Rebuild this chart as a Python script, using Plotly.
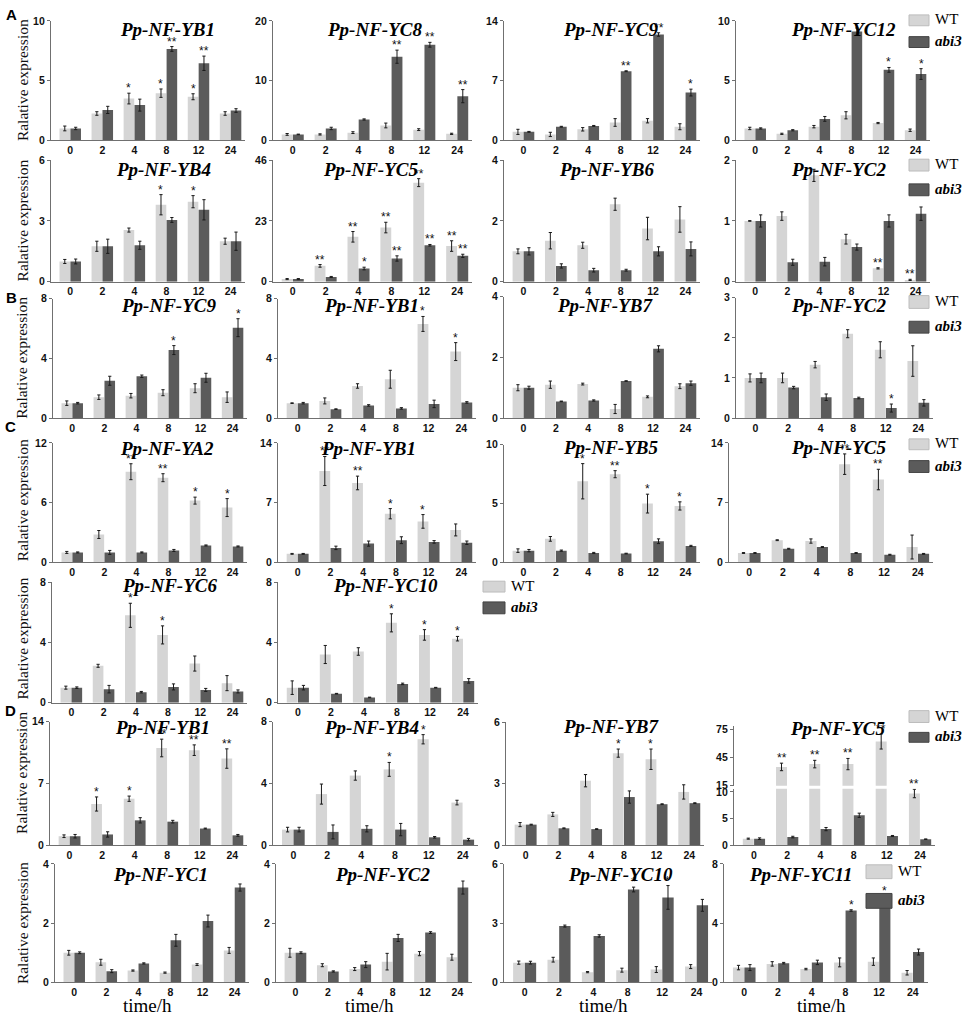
import plotly.graph_objects as go

W, H = 964, 1023
TIMES = ["0", "2", "4", "8", "12", "24"]
WT_COLOR = "#d5d5d5"
AB_COLOR = "#5b5b5b"
AXIS_COLOR = "#707070"

# ---------------- data ----------------
# Row A-1
A1_TITLE = "Pp-NF-YB1"; A1_TICKS = [0, 5, 10]
A1_WT = [1.0, 2.25, 3.5, 3.95, 3.65, 2.25]; A1_WT_ERR = [0.2, 0.15, 0.45, 0.35, 0.25, 0.15]
A1_AB = [1.0, 2.55, 2.95, 7.65, 6.45, 2.5]; A1_AB_ERR = [0.1, 0.3, 0.5, 0.2, 0.6, 0.15]
A1_WT_SIG = ["", "", "*", "*", "*", ""]; A1_AB_SIG = ["", "", "", "**", "**", ""]

A2_TITLE = "Pp-NF-YC8"; A2_TICKS = [0, 10, 20]
A2_WT = [1.0, 1.0, 1.3, 2.5, 1.8, 1.1]; A2_WT_ERR = [0.15, 0.1, 0.15, 0.4, 0.15, 0.1]
A2_AB = [1.0, 2.0, 3.5, 14.0, 16.0, 7.4]; A2_AB_ERR = [0.05, 0.2, 0.1, 1.1, 0.4, 1.1]
A2_WT_SIG = ["", "", "", "", "", ""]; A2_AB_SIG = ["", "", "", "**", "**", "**"]

A3_TITLE = "Pp-NF-YC9"; A3_TICKS = [0, 7, 14]
A3_WT = [1.0, 0.7, 1.3, 2.1, 2.3, 1.6]; A3_WT_ERR = [0.3, 0.25, 0.2, 0.45, 0.25, 0.35]
A3_AB = [1.0, 1.6, 1.7, 8.1, 12.4, 5.6]; A3_AB_ERR = [0.05, 0.05, 0.05, 0.05, 0.2, 0.4]
A3_WT_SIG = ["", "", "", "", "", ""]; A3_AB_SIG = ["", "", "", "**", "**", "*"]

A4_TITLE = "Pp-NF-YC12"; A4_TICKS = [0, 5, 10]
A4_WT = [1.0, 0.55, 1.15, 2.1, 1.45, 0.85]; A4_WT_ERR = [0.1, 0.05, 0.1, 0.3, 0.05, 0.1]
A4_AB = [1.0, 0.85, 1.8, 9.1, 5.9, 5.55]; A4_AB_ERR = [0.05, 0.05, 0.2, 0.3, 0.2, 0.45]
A4_WT_SIG = ["", "", "", "", "", ""]; A4_AB_SIG = ["", "", "", "", "*", "*"]

# Row A-2
A5_TITLE = "Pp-NF-YB4"; A5_TICKS = [0, 3, 6]
A5_WT = [1.0, 1.75, 2.55, 3.8, 3.95, 2.0]; A5_WT_ERR = [0.1, 0.25, 0.1, 0.5, 0.3, 0.15]
A5_AB = [1.0, 1.75, 1.8, 3.05, 3.55, 2.0]; A5_AB_ERR = [0.12, 0.35, 0.2, 0.12, 0.5, 0.45]
A5_WT_SIG = ["", "", "", "*", "*", ""]; A5_AB_SIG = ["", "", "", "", "", ""]

A6_TITLE = "Pp-NF-YC5"; A6_TICKS = [0, 23, 46]
A6_WT = [1.0, 6.0, 17.0, 20.5, 37.5, 13.5]; A6_WT_ERR = [0.2, 0.5, 2.0, 2.0, 1.5, 2.0]
A6_AB = [1.0, 1.8, 5.0, 8.8, 13.8, 9.8]; A6_AB_ERR = [0.2, 0.2, 0.5, 1.0, 0.3, 0.6]
A6_WT_SIG = ["", "**", "**", "**", "**", "**"]; A6_AB_SIG = ["", "", "*", "**", "**", "**"]

A7_TITLE = "Pp-NF-YB6"; A7_TICKS = [0, 2, 4]
A7_WT = [1.0, 1.35, 1.2, 2.55, 1.75, 2.05]; A7_WT_ERR = [0.08, 0.27, 0.1, 0.2, 0.37, 0.42]
A7_AB = [1.0, 0.52, 0.38, 0.38, 1.0, 1.08]; A7_AB_ERR = [0.12, 0.07, 0.06, 0.03, 0.15, 0.23]
A7_WT_SIG = ["", "", "", "", "", ""]; A7_AB_SIG = ["", "", "", "", "", ""]

A8_TITLE = "Pp-NF-YC2"; A8_TICKS = [0, 1, 2]
A8_WT = [1.0, 1.08, 1.75, 0.7, 0.22, 0.03]; A8_WT_ERR = [0.005, 0.07, 0.1, 0.08, 0.01, 0.01]
A8_AB = [1.0, 0.32, 0.33, 0.57, 1.0, 1.12]; A8_AB_ERR = [0.1, 0.05, 0.07, 0.05, 0.1, 0.11]
A8_WT_SIG = ["", "", "", "", "**", "**"]; A8_AB_SIG = ["", "", "", "", "", ""]

# Row B
B1_TITLE = "Pp-NF-YC9"; B1_TICKS = [0, 4, 8]
B1_WT = [1.0, 1.4, 1.5, 1.7, 2.0, 1.4]; B1_WT_ERR = [0.15, 0.15, 0.15, 0.2, 0.3, 0.35]
B1_AB = [1.0, 2.5, 2.8, 4.55, 2.7, 6.05]; B1_AB_ERR = [0.05, 0.3, 0.08, 0.3, 0.3, 0.6]
B1_WT_SIG = ["", "", "", "", "", ""]; B1_AB_SIG = ["", "", "", "*", "", "*"]

B2_TITLE = "Pp-NF-YB1"; B2_TICKS = [0, 4, 8]
B2_WT = [1.0, 1.15, 2.15, 2.6, 6.3, 4.45]; B2_WT_ERR = [0.02, 0.2, 0.15, 0.6, 0.5, 0.6]
B2_AB = [1.0, 0.6, 0.85, 0.65, 0.95, 1.05]; B2_AB_ERR = [0.05, 0.02, 0.05, 0.05, 0.25, 0.05]
B2_WT_SIG = ["", "", "", "", "*", "*"]; B2_AB_SIG = ["", "", "", "", "", ""]

B3_TITLE = "Pp-NF-YB7"; B3_TICKS = [0, 2, 4]
B3_WT = [1.0, 1.1, 1.12, 0.3, 0.7, 1.05]; B3_WT_ERR = [0.1, 0.12, 0.03, 0.15, 0.03, 0.08]
B3_AB = [1.0, 0.55, 0.58, 1.22, 2.28, 1.15]; B3_AB_ERR = [0.05, 0.01, 0.02, 0.01, 0.1, 0.07]
B3_WT_SIG = ["", "", "", "", "", ""]; B3_AB_SIG = ["", "", "", "", "", ""]

B4_TITLE = "Pp-NF-YC2"; B4_TICKS = [0, 1, 2, 3]
B4_WT = [1.0, 1.0, 1.33, 2.1, 1.7, 1.42]; B4_WT_ERR = [0.1, 0.12, 0.08, 0.1, 0.2, 0.38]
B4_AB = [1.0, 0.76, 0.52, 0.5, 0.25, 0.38]; B4_AB_ERR = [0.12, 0.03, 0.08, 0.02, 0.1, 0.08]
B4_WT_SIG = ["", "", "", "", "", ""]; B4_AB_SIG = ["", "", "", "", "*", ""]

# Row C-1
C1_TITLE = "Pp-NF-YA2"; C1_TICKS = [0, 6, 12]
C1_WT = [1.0, 2.8, 9.1, 8.5, 6.2, 5.5]; C1_WT_ERR = [0.1, 0.4, 0.8, 0.4, 0.35, 0.9]
C1_AB = [1.0, 1.0, 1.0, 1.2, 1.7, 1.6]; C1_AB_ERR = [0.05, 0.2, 0.05, 0.1, 0.05, 0.05]
C1_WT_SIG = ["", "", "**", "**", "*", "*"]; C1_AB_SIG = ["", "", "", "", "", ""]

C2_TITLE = "Pp-NF-YB1"; C2_TICKS = [0, 7, 14]
C2_WT = [1.0, 10.7, 9.3, 5.7, 4.8, 3.8]; C2_WT_ERR = [0.05, 1.7, 0.8, 0.6, 0.8, 0.7]
C2_AB = [1.0, 1.7, 2.2, 2.6, 2.4, 2.3]; C2_AB_ERR = [0.05, 0.2, 0.3, 0.4, 0.15, 0.2]
C2_WT_SIG = ["", "**", "**", "*", "*", ""]; C2_AB_SIG = ["", "", "", "", "", ""]

C3_TITLE = "Pp-NF-YB5"; C3_TICKS = [0, 5, 10]
C3_WT = [1.0, 2.0, 6.9, 7.5, 5.0, 4.8]; C3_WT_ERR = [0.15, 0.2, 1.5, 0.3, 0.8, 0.35]
C3_AB = [1.0, 1.0, 0.8, 0.75, 1.8, 1.4]; C3_AB_ERR = [0.1, 0.05, 0.05, 0.03, 0.2, 0.05]
C3_WT_SIG = ["", "", "*", "**", "*", "*"]; C3_AB_SIG = ["", "", "", "", "", ""]

C4_TITLE = "Pp-NF-YC5"; C4_TICKS = [0, 7, 14]
C4_WT = [1.1, 2.6, 2.5, 11.5, 9.7, 1.8]; C4_WT_ERR = [0.05, 0.05, 0.25, 1.2, 1.2, 1.4]
C4_AB = [1.1, 1.6, 1.8, 1.1, 0.9, 1.0]; C4_AB_ERR = [0.05, 0.05, 0.05, 0.05, 0.05, 0.05]
C4_WT_SIG = ["", "", "", "**", "**", ""]; C4_AB_SIG = ["", "", "", "", "", ""]

# Row C-2
C5_TITLE = "Pp-NF-YC6"; C5_TICKS = [0, 4, 8]
C5_WT = [1.0, 2.45, 5.8, 4.5, 2.6, 1.3]; C5_WT_ERR = [0.1, 0.1, 0.8, 0.6, 0.5, 0.5]
C5_AB = [1.0, 0.9, 0.7, 1.05, 0.85, 0.75]; C5_AB_ERR = [0.05, 0.25, 0.05, 0.2, 0.1, 0.1]
C5_WT_SIG = ["", "", "*", "*", "", ""]; C5_AB_SIG = ["", "", "", "", "", ""]

C6_TITLE = "Pp-NF-YC10"; C6_TICKS = [0, 4, 8]
C6_WT = [1.0, 3.2, 3.4, 5.3, 4.5, 4.25]; C6_WT_ERR = [0.45, 0.6, 0.25, 0.6, 0.35, 0.15]
C6_AB = [1.0, 0.6, 0.35, 1.25, 1.0, 1.45]; C6_AB_ERR = [0.15, 0.02, 0.02, 0.05, 0.02, 0.15]
C6_WT_SIG = ["", "", "", "*", "*", "*"]; C6_AB_SIG = ["", "", "", "", "", ""]

# Row D-1
D1_TITLE = "Pp-NF-YB1"; D1_TICKS = [0, 7, 14]
D1_WT = [1.0, 4.65, 5.25, 11.0, 10.75, 9.8]; D1_WT_ERR = [0.15, 0.8, 0.3, 1.0, 0.6, 1.1]
D1_AB = [1.0, 1.2, 2.8, 2.65, 1.87, 1.1]; D1_AB_ERR = [0.2, 0.3, 0.3, 0.15, 0.05, 0.1]
D1_WT_SIG = ["", "*", "*", "**", "**", "**"]; D1_AB_SIG = ["", "", "", "", "", ""]

D2_TITLE = "Pp-NF-YB4"; D2_TICKS = [0, 4, 8]
D2_WT = [1.0, 3.3, 4.5, 4.9, 6.85, 2.75]; D2_WT_ERR = [0.15, 0.65, 0.3, 0.45, 0.3, 0.15]
D2_AB = [1.0, 0.85, 1.05, 1.0, 0.5, 0.35]; D2_AB_ERR = [0.15, 0.45, 0.2, 0.4, 0.05, 0.08]
D2_WT_SIG = ["", "", "", "*", "*", ""]; D2_AB_SIG = ["", "", "", "", "", ""]

D3_TITLE = "Pp-NF-YB7"; D3_TICKS = [0, 3, 6]
D3_WT = [1.0, 1.5, 3.15, 4.5, 4.2, 2.6]; D3_WT_ERR = [0.1, 0.1, 0.3, 0.2, 0.5, 0.35]
D3_AB = [1.0, 0.82, 0.78, 2.35, 2.0, 2.05]; D3_AB_ERR = [0.02, 0.02, 0.02, 0.3, 0.02, 0.02]
D3_WT_SIG = ["", "", "", "*", "*", ""]; D3_AB_SIG = ["", "", "", "", "", ""]

# broken-axis panel
D4_TITLE = "Pp-NF-YC5"; D4_TICKS_LO = [0, 5, 10]; D4_TICKS_HI = [15, 45, 75]
D4_WT = [1.2, 35.0, 38.0, 38.0, 62.0, 9.7]; D4_WT_ERR = [0.1, 4.0, 4.0, 6.0, 8.0, 0.8]
D4_AB = [1.2, 1.5, 3.0, 5.6, 1.7, 1.1]; D4_AB_ERR = [0.15, 0.15, 0.3, 0.4, 0.1, 0.05]
D4_WT_SIG = ["", "**", "**", "**", "**", "**"]; D4_AB_SIG = ["", "", "", "", "", ""]

# Row D-2
D5_TITLE = "Pp-NF-YC1"; D5_TICKS = [0, 2, 4]
D5_WT = [1.0, 0.68, 0.4, 0.33, 0.6, 1.08]; D5_WT_ERR = [0.08, 0.1, 0.02, 0.02, 0.03, 0.1]
D5_AB = [1.0, 0.38, 0.64, 1.42, 2.07, 3.2]; D5_AB_ERR = [0.03, 0.05, 0.02, 0.2, 0.2, 0.12]
D5_WT_SIG = ["", "", "", "", "", ""]; D5_AB_SIG = ["", "", "", "", "", ""]

D6_TITLE = "Pp-NF-YC2"; D6_TICKS = [0, 2, 4]
D6_WT = [1.0, 0.58, 0.45, 0.7, 0.97, 0.85]; D6_WT_ERR = [0.15, 0.05, 0.05, 0.28, 0.07, 0.1]
D6_AB = [1.0, 0.37, 0.6, 1.5, 1.68, 3.2]; D6_AB_ERR = [0.03, 0.02, 0.1, 0.12, 0.03, 0.22]
D6_WT_SIG = ["", "", "", "", "", ""]; D6_AB_SIG = ["", "", "", "", "", ""]

D7_TITLE = "Pp-NF-YC10"; D7_TICKS = [0, 3, 6]
D7_WT = [1.0, 1.15, 0.52, 0.62, 0.65, 0.8]; D7_WT_ERR = [0.08, 0.12, 0.03, 0.1, 0.15, 0.1]
D7_AB = [1.0, 2.85, 2.35, 4.7, 4.3, 3.9]; D7_AB_ERR = [0.07, 0.05, 0.06, 0.12, 0.6, 0.3]
D7_WT_SIG = ["", "", "", "", "", ""]; D7_AB_SIG = ["", "", "", "*", "*", ""]

D8_TITLE = "Pp-NF-YC11"; D8_TICKS = [0, 4, 8]
D8_WT = [1.0, 1.25, 0.9, 1.35, 1.4, 0.65]; D8_WT_ERR = [0.15, 0.15, 0.05, 0.3, 0.25, 0.15]
D8_AB = [1.0, 1.3, 1.35, 4.85, 5.65, 2.05]; D8_AB_ERR = [0.2, 0.05, 0.15, 0.05, 0.2, 0.2]
D8_WT_SIG = ["", "", "", "", "", ""]; D8_AB_SIG = ["", "", "", "*", "*", ""]

LEGEND_LABELS = ["WT", "abi3"]
Y_LABEL = "Ralative expression"
X_LABEL = "time/h"
PANEL_LETTERS = ["A", "B", "C", "D"]


def P(title, ticks, wt, wte, ab, abe, ws, as_):
    return dict(title=title, ticks=ticks, wt=wt, wte=wte, ab=ab, abe=abe, ws=ws, as_=as_)


PANELS = [
    P(A1_TITLE, A1_TICKS, A1_WT, A1_WT_ERR, A1_AB, A1_AB_ERR, A1_WT_SIG, A1_AB_SIG),
    P(A2_TITLE, A2_TICKS, A2_WT, A2_WT_ERR, A2_AB, A2_AB_ERR, A2_WT_SIG, A2_AB_SIG),
    P(A3_TITLE, A3_TICKS, A3_WT, A3_WT_ERR, A3_AB, A3_AB_ERR, A3_WT_SIG, A3_AB_SIG),
    P(A4_TITLE, A4_TICKS, A4_WT, A4_WT_ERR, A4_AB, A4_AB_ERR, A4_WT_SIG, A4_AB_SIG),
    P(A5_TITLE, A5_TICKS, A5_WT, A5_WT_ERR, A5_AB, A5_AB_ERR, A5_WT_SIG, A5_AB_SIG),
    P(A6_TITLE, A6_TICKS, A6_WT, A6_WT_ERR, A6_AB, A6_AB_ERR, A6_WT_SIG, A6_AB_SIG),
    P(A7_TITLE, A7_TICKS, A7_WT, A7_WT_ERR, A7_AB, A7_AB_ERR, A7_WT_SIG, A7_AB_SIG),
    P(A8_TITLE, A8_TICKS, A8_WT, A8_WT_ERR, A8_AB, A8_AB_ERR, A8_WT_SIG, A8_AB_SIG),
    P(B1_TITLE, B1_TICKS, B1_WT, B1_WT_ERR, B1_AB, B1_AB_ERR, B1_WT_SIG, B1_AB_SIG),
    P(B2_TITLE, B2_TICKS, B2_WT, B2_WT_ERR, B2_AB, B2_AB_ERR, B2_WT_SIG, B2_AB_SIG),
    P(B3_TITLE, B3_TICKS, B3_WT, B3_WT_ERR, B3_AB, B3_AB_ERR, B3_WT_SIG, B3_AB_SIG),
    P(B4_TITLE, B4_TICKS, B4_WT, B4_WT_ERR, B4_AB, B4_AB_ERR, B4_WT_SIG, B4_AB_SIG),
    P(C1_TITLE, C1_TICKS, C1_WT, C1_WT_ERR, C1_AB, C1_AB_ERR, C1_WT_SIG, C1_AB_SIG),
    P(C2_TITLE, C2_TICKS, C2_WT, C2_WT_ERR, C2_AB, C2_AB_ERR, C2_WT_SIG, C2_AB_SIG),
    P(C3_TITLE, C3_TICKS, C3_WT, C3_WT_ERR, C3_AB, C3_AB_ERR, C3_WT_SIG, C3_AB_SIG),
    P(C4_TITLE, C4_TICKS, C4_WT, C4_WT_ERR, C4_AB, C4_AB_ERR, C4_WT_SIG, C4_AB_SIG),
    P(C5_TITLE, C5_TICKS, C5_WT, C5_WT_ERR, C5_AB, C5_AB_ERR, C5_WT_SIG, C5_AB_SIG),
    P(C6_TITLE, C6_TICKS, C6_WT, C6_WT_ERR, C6_AB, C6_AB_ERR, C6_WT_SIG, C6_AB_SIG),
    P(D1_TITLE, D1_TICKS, D1_WT, D1_WT_ERR, D1_AB, D1_AB_ERR, D1_WT_SIG, D1_AB_SIG),
    P(D2_TITLE, D2_TICKS, D2_WT, D2_WT_ERR, D2_AB, D2_AB_ERR, D2_WT_SIG, D2_AB_SIG),
    P(D3_TITLE, D3_TICKS, D3_WT, D3_WT_ERR, D3_AB, D3_AB_ERR, D3_WT_SIG, D3_AB_SIG),
    None,  # broken-axis panel (D4) handled separately
    P(D5_TITLE, D5_TICKS, D5_WT, D5_WT_ERR, D5_AB, D5_AB_ERR, D5_WT_SIG, D5_AB_SIG),
    P(D6_TITLE, D6_TICKS, D6_WT, D6_WT_ERR, D6_AB, D6_AB_ERR, D6_WT_SIG, D6_AB_SIG),
    P(D7_TITLE, D7_TICKS, D7_WT, D7_WT_ERR, D7_AB, D7_AB_ERR, D7_WT_SIG, D7_AB_SIG),
    P(D8_TITLE, D8_TICKS, D8_WT, D8_WT_ERR, D8_AB, D8_AB_ERR, D8_WT_SIG, D8_AB_SIG),
]

# ---------------- layout geometry (pixels) ----------------
# (x_left, x_right, y_top(at max tick), y_bottom(at 0), title_cx, title_cy)
POS = [
    (51, 245, 15, 136, 167, 24), (273, 472, 15, 136, 374, 24),
    (504, 700, 15, 136, 610, 24), (736, 930, 15, 136, 843, 24),
    (51, 245, 156, 279, 163, 165), (273, 472, 156, 279, 370, 165),
    (504, 700, 156, 279, 606, 165), (736, 930, 156, 279, 838, 165),
    (53, 247, 296, 417, 168, 303), (278, 476, 296, 417, 371, 303),
    (504, 700, 294, 417, 605, 303), (736, 933, 295, 417, 838, 303),
    (53, 247, 442, 563, 167, 448), (278, 476, 442, 563, 368, 448),
    (504, 700, 444, 563, 610, 447), (729, 933, 442, 563, 838, 447),
    (52, 247, 583, 705, 169, 586), (278, 478, 583, 705, 385, 586),
    (50, 247, 724, 849, 162, 730), (273, 478, 724, 849, 371, 730),
    (506, 704, 725, 849, 611, 729), (734, 935, 0, 0, 837, 731),
    (55, 249, 868, 988, 160, 879), (276, 472, 868, 988, 382, 879),
    (504, 712, 868, 988, 620, 879), (724, 928, 868, 988, 800, 879),
]
D4_LO = (795 - 3, 849)   # lower part pixel (top, bottom)
D4_HI = (729, 789)       # upper part pixel (top, bottom)
D4_RANGE_LO = [0, 10.6]
D4_RANGE_HI = [15, 78]

ROW_LABEL_Y = [75, 217, 356, 500, 640, 776, 928]
LETTER_POS = [(4, 9), (4, 295), (3, 425), (3, 713)]
LEGEND_POS = [  # box x0, x1, WT y0, y1, abi3 y0, y1
    (909, 929, 9, 20, 31, 42),
    (909, 929, 155, 167, 180, 192),
    (909, 929, 293, 306, 319, 331),
    (909, 929, 438, 449, 460, 472),
    (483, 505, 582, 593, 603, 615),
    (909, 929, 713, 725, 735, 745),
    (866, 892, 869, 883, 898, 913),
]

OFF = 0.17
BW = 0.33
TICK_FONT = dict(family="Liberation Sans, Arial", size=10.5, color="#111111", weight="bold")

fig = go.Figure()
axes = {}
annotations = []
shapes = []
count = [0]


def new_axes(x0, x1, ytop, ybot, yrange, ticks, show_x=True):
    count[0] += 1
    n = count[0]
    s = "" if n == 1 else str(n)
    axes["xaxis" + s] = dict(
        domain=[x0 / W, x1 / W], anchor="y" + s, range=[-0.6, 5.45],
        tickmode="array", tickvals=list(range(len(TIMES))), ticktext=TIMES,
        showline=show_x, visible=show_x, linecolor=AXIS_COLOR, linewidth=1.3,
        ticks="", showgrid=False, zeroline=False, tickfont=TICK_FONT, fixedrange=True)
    axes["yaxis" + s] = dict(
        domain=[1 - ybot / H, 1 - ytop / H], anchor="x" + s, range=yrange,
        tickmode="array", tickvals=ticks, showline=True, linecolor=AXIS_COLOR,
        linewidth=1.3, ticks="outside", ticklen=3, tickcolor=AXIS_COLOR, tickwidth=1,
        showgrid=False, zeroline=False, tickfont=TICK_FONT, fixedrange=True)
    return "x" + s, "y" + s


def add_bars(xr, yr, wt, wte, ab, abe):
    idx = list(range(len(TIMES)))
    for vals, errs, col, sgn in ((wt, wte, WT_COLOR, -1), (ab, abe, AB_COLOR, 1)):
        fig.add_trace(go.Bar(
            x=[i + sgn * OFF for i in idx], y=vals, width=BW,
            marker=dict(color=col, line=dict(width=0)),
            error_y=dict(type="data", array=errs, visible=True, color="#1a1a1a",
                         thickness=1, width=1.6),
            xaxis=xr, yaxis=yr, showlegend=False, hoverinfo="skip"))


def add_stars(xr, yr, vals, errs, sigs, sgn, keep=lambda v: True):
    for i, (v, e, s) in enumerate(zip(vals, errs, sigs)):
        if s and keep(v):
            annotations.append(dict(
                x=i + sgn * OFF, y=v + e, xref=xr, yref=yr, text=s, showarrow=False,
                yanchor="bottom", yshift=-4,
                font=dict(family="Liberation Sans, Arial", size=12, color="#111111")))


def add_title(cx, cy, text):
    annotations.append(dict(
        x=cx / W, y=1 - cy / H, xref="paper", yref="paper", showarrow=False,
        text="<b><i>" + text + "</i></b>", xanchor="center", yanchor="middle",
        font=dict(family="Liberation Serif, Times New Roman", size=19, color="#000000")))


for k, (panel, pos) in enumerate(zip(PANELS, POS)):
    x0, x1, yt, yb, tcx, tcy = pos
    if panel is None:
        # broken y-axis panel
        xr, yr = new_axes(x0, x1, D4_LO[0], D4_LO[1], D4_RANGE_LO, D4_TICKS_LO)
        lo_wte = [e if v + e <= D4_RANGE_LO[1] else 0 for v, e in zip(D4_WT, D4_WT_ERR)]
        add_bars(xr, yr, D4_WT, lo_wte, D4_AB, D4_AB_ERR)
        add_stars(xr, yr, D4_WT, D4_WT_ERR, D4_WT_SIG, -1, keep=lambda v: v < D4_RANGE_LO[1])
        xr2, yr2 = new_axes(x0, x1, D4_HI[0], D4_HI[1], D4_RANGE_HI, D4_TICKS_HI, show_x=False)
        hi_wt = [v if v > D4_RANGE_HI[0] else 0 for v in D4_WT]
        hi_wte = [e if v > D4_RANGE_HI[0] else 0 for v, e in zip(D4_WT, D4_WT_ERR)]
        hi_ab = [0 for v in D4_AB]
        add_bars(xr2, yr2, hi_wt, hi_wte, hi_ab, [0] * len(D4_AB))
        add_stars(xr2, yr2, D4_WT, D4_WT_ERR, D4_WT_SIG, -1, keep=lambda v: v > D4_RANGE_HI[0])
        add_title(tcx, tcy, D4_TITLE)
        continue
    t = panel["ticks"]
    xr, yr = new_axes(x0, x1, yt, yb, [0, t[-1]], t)
    add_bars(xr, yr, panel["wt"], panel["wte"], panel["ab"], panel["abe"])
    add_stars(xr, yr, panel["wt"], panel["wte"], panel["ws"], -1)
    add_stars(xr, yr, panel["ab"], panel["abe"], panel["as_"], 1)
    add_title(tcx, tcy, panel["title"])

# row y-labels
for cy in ROW_LABEL_Y:
    annotations.append(dict(
        x=22 / W, y=1 - cy / H, xref="paper", yref="paper", showarrow=False,
        text=Y_LABEL, textangle=-90, xanchor="center", yanchor="middle",
        font=dict(family="Liberation Serif, Times New Roman", size=15.5, color="#111111")))

# panel letters
for letter, (lx, ly) in zip(PANEL_LETTERS, LETTER_POS):
    annotations.append(dict(
        x=lx / W, y=1 - ly / H, xref="paper", yref="paper", showarrow=False,
        text="<b>" + letter + "</b>", xanchor="left", yanchor="middle",
        font=dict(family="Liberation Sans, Arial", size=15, color="#000000")))

# x-axis label under last row
for pos in POS[-4:]:
    cx = (pos[0] + pos[1]) / 2 - 5
    annotations.append(dict(
        x=cx / W, y=1 - 1011 / H, xref="paper", yref="paper", showarrow=False,
        text=X_LABEL, xanchor="center", yanchor="middle",
        font=dict(family="Liberation Serif, Times New Roman", size=19, color="#000000")))

# legends
for bx0, bx1, wy0, wy1, ay0, ay1 in LEGEND_POS:
    for (y0, y1, col, lcol, lab) in ((wy0, wy1, WT_COLOR, "#bdbdbd", LEGEND_LABELS[0]),
                                      (ay0, ay1, AB_COLOR, "#444444", LEGEND_LABELS[1])):
        shapes.append(dict(type="rect", xref="paper", yref="paper",
                           x0=bx0 / W, x1=bx1 / W, y0=1 - y1 / H, y1=1 - y0 / H,
                           fillcolor=col, line=dict(color=lcol, width=1)))
        txt = lab if lab == "WT" else "<b><i>" + lab + "</i></b>"
        annotations.append(dict(
            x=(bx1 + 4) / W, y=1 - ((y0 + y1) / 2 - 1) / H, xref="paper", yref="paper",
            showarrow=False, text=txt, xanchor="left", yanchor="middle",
            font=dict(family="Liberation Serif, Times New Roman", size=15, color="#000000")))

fig.update_layout(
    width=W, height=H, margin=dict(l=0, r=0, t=0, b=0),
    paper_bgcolor="white", plot_bgcolor="white", barmode="overlay",
    showlegend=False, annotations=annotations, shapes=shapes, **axes)

fig.write_html(
    "out.html",
    config={"displayModeBar": False},
    post_script="document.body.style.margin='0px';document.body.style.overflow='hidden';")
